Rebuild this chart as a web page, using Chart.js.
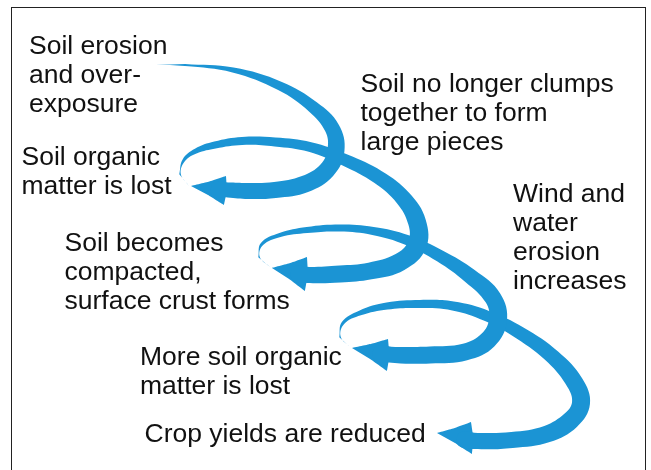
<!DOCTYPE html>
<html>
<head>
<meta charset="utf-8">
<script src="https://cdn.jsdelivr.net/npm/chart.js@4.4.0/dist/chart.umd.min.js"></script>
<style>
html,body{margin:0;padding:0;background:#fff;width:651px;height:470px;overflow:hidden}
#wrap{position:relative;width:651px;height:470px;overflow:hidden}
#c{position:absolute;left:0;top:0}
.frame{position:absolute;left:11px;top:7px;width:635px;height:480px;border:1.5px solid #222;box-sizing:border-box}
.lbl{position:absolute;font-family:"Liberation Sans",Arial,Helvetica,sans-serif;font-size:26.5px;line-height:28.8px;color:#111;white-space:pre}
</style>
</head>
<body>
<div id="wrap">
  <div class="frame"></div>
  <canvas id="c" width="651" height="470"></canvas>
</div>
<script>
// ---- Spiral path data (centre line x, y and ribbon thickness), tail -> head ----
const spiral1X = [156, 185, 233, 280, 313, 332, 336, 327, 305, 275, 248, 228, 213];
const spiral1Y = [ 65,  65,  70,  86, 107, 128, 150, 170, 184, 190, 191, 190, 189];
const spiral1W = [  0,   2,   5,   9,  12,  15,  17,  17,  17,  16,  16,  15,  13];
const head1    = [191, 186, 226, 176, 224, 205];

const spiral2X = [189, 180, 184, 196, 215, 242, 275, 310, 345, 378, 403, 417, 417, 400, 370, 340, 310, 293];
const spiral2Y = [186, 174, 160, 151, 145, 141, 142, 147, 160, 177, 198, 222, 245, 262, 271, 274, 275, 273];
const spiral2W = [  0, 1.5,   3,   5,   7,   8,   9,  10,  12,  14,  16,  18,  19,  18,  17,  17,  16,  13];
const head2    = [272, 268, 307, 257, 305, 291];

const spiral3X = [270, 259, 262, 280, 307, 340, 373, 407, 440, 470, 493, 498, 488, 465, 430, 395, 375];
const spiral3Y = [267, 257, 244, 235, 230, 228, 231, 240, 256, 276, 298, 320, 340, 352, 355, 355, 353];
const spiral3W = [  0, 1.5,   3,   4,   6,   7,   8,  10,  12,  15,  17,  18,  18,  17,  17,  16,  13];
const head3    = [352, 348, 388, 339, 387, 371];

const spiral4X = [351, 340, 343, 360, 387, 420, 453, 487, 520, 553, 575, 581, 571, 547, 512, 478, 459];
const spiral4Y = [348, 337, 323, 313, 306, 304, 306, 316, 333, 357, 383, 403, 420, 434, 440, 441, 439];
const spiral4W = [  0, 1.5,   3,   5,   7,   8,   9,  11,  13,  15,  17,  18,  18,  17,  16,  16,  13];
const head4    = [437, 433, 471, 422, 472, 454];

// ---- Labels ----
const labelTexts = [
  "Soil erosion\nand over-\nexposure",
  "Soil organic\nmatter is lost",
  "Soil no longer clumps\ntogether to form\nlarge pieces",
  "Wind and\nwater\nerosion\nincreases",
  "Soil becomes\ncompacted,\nsurface crust forms",
  "More soil organic\nmatter is lost",
  "Crop yields are reduced"
];
const labelLeft     = [29, 21.5, 360.5, 513, 64.5, 140, 144.5];
const labelBaseline = [55, 166, 93, 203, 252, 366, 443];

const BLUE = '#1b94d4';

function ribbon(xs, ys, ws) {
  const n = xs.length, up = [], lo = [];
  for (let i = 0; i < n; i++) {
    const a = Math.max(i - 1, 0), b = Math.min(i + 1, n - 1);
    let tx = xs[b] - xs[a], ty = ys[b] - ys[a];
    const L = Math.hypot(tx, ty) || 1; tx /= L; ty /= L;
    const nx = -ty, ny = tx, h = ws[i] / 2;
    up.push({x: xs[i] + nx * h, y: ys[i] + ny * h});
    lo.push({x: xs[i] - nx * h, y: ys[i] - ny * h});
  }
  const pts = up.slice();
  for (let i = n - 1; i >= 0; i--) {
    if (i === 0 && ws[0] === 0) break;
    pts.push(lo[i]);
  }
  return pts;
}

function arrowHead(h) {
  const tip = {x: h[0], y: h[1]}, b1 = {x: h[2], y: h[3]}, b2 = {x: h[4], y: h[5]};
  const c = {x: (b1.x + b2.x) / 2, y: (b1.y + b2.y) / 2};
  const inset = (p, q, d) => {
    const m = {x: (p.x + q.x) / 2, y: (p.y + q.y) / 2};
    const vx = c.x - m.x, vy = c.y - m.y, L = Math.hypot(vx, vy) || 1;
    return {x: m.x + vx / L * d, y: m.y + vy / L * d};
  };
  const back = {x: c.x - (tip.x - c.x) * 0.06, y: c.y - (tip.y - c.y) * 0.06};
  return [tip, inset(tip, b1, 1.0), b1, back, b2, inset(b2, tip, 1.0)];
}

const spirals = [
  [spiral1X, spiral1Y, spiral1W, head1],
  [spiral2X, spiral2Y, spiral2W, head2],
  [spiral3X, spiral3Y, spiral3W, head3],
  [spiral4X, spiral4Y, spiral4W, head4]
];

const datasets = [];
spirals.forEach((s) => {
  datasets.push({
    data: ribbon(s[0], s[1], s[2]),
    fill: 'shape', backgroundColor: BLUE, borderColor: 'rgba(0,0,0,0)', borderWidth: 0,
    pointRadius: 0, tension: 0.4
  });
  datasets.push({
    data: arrowHead(s[3]),
    fill: 'shape', backgroundColor: BLUE, borderColor: 'rgba(0,0,0,0)', borderWidth: 0,
    pointRadius: 0, tension: 0.0001
  });
});

new Chart(document.getElementById('c'), {
  type: 'line',
  data: {datasets},
  options: {
    indexAxis: 'y',
    responsive: false,
    animation: false,
    events: [],
    layout: {padding: 0},
    plugins: {legend: {display: false}, tooltip: {enabled: false}},
    scales: {
      x: {type: 'linear', min: 0, max: 651, display: false},
      y: {type: 'linear', min: 0, max: 470, reverse: true, display: false}
    }
  }
});

const wrap = document.getElementById('wrap');
labelTexts.forEach((t, i) => {
  const d = document.createElement('div');
  d.className = 'lbl';
  d.textContent = t;
  d.style.left = labelLeft[i] + 'px';
  d.style.top = (labelBaseline[i] - 23.6) + 'px';
  wrap.appendChild(d);
});
</script>
</body>
</html>
